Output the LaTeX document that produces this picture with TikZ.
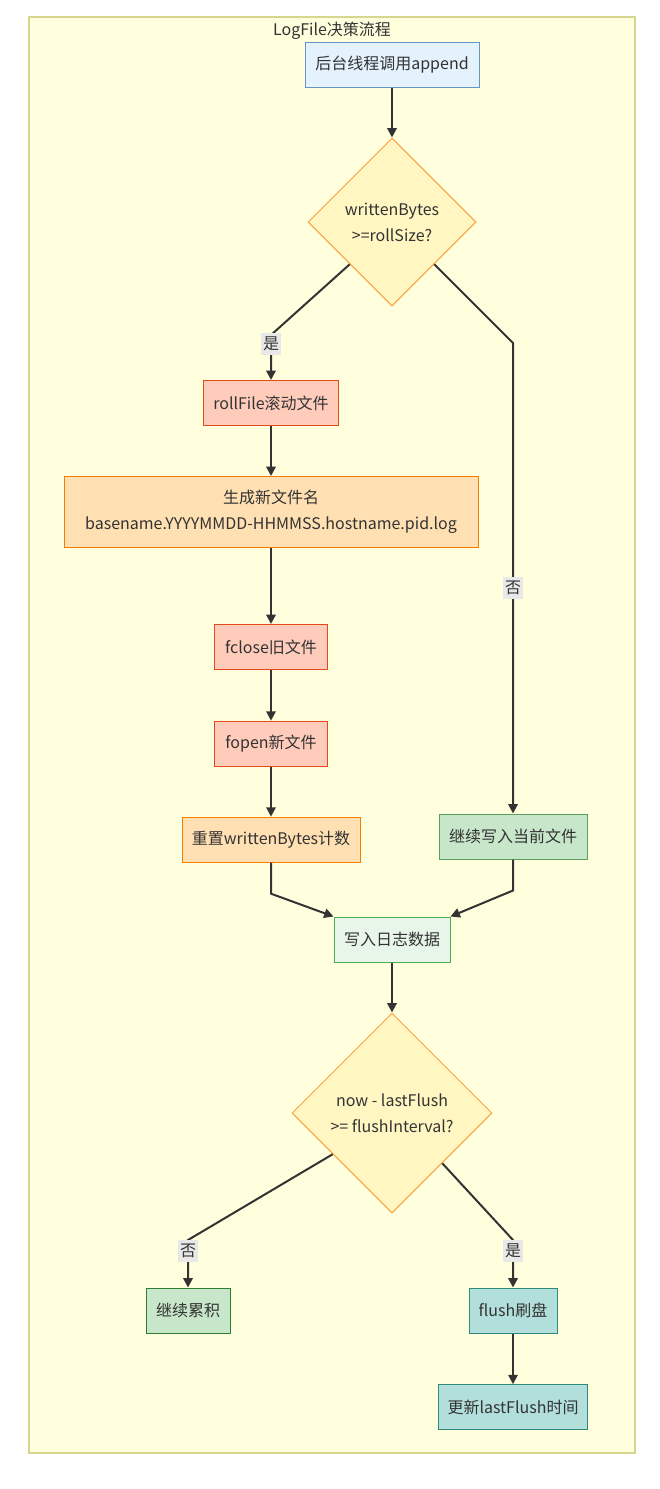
\documentclass[tikz,border=0pt]{standalone}
\usepackage{fontspec}
\newfontfamily\cjk{Noto Sans CJK SC}
\usetikzlibrary{shapes.geometric, arrows.meta, positioning, calc}
\definecolor{txt}{HTML}{333333}
\definecolor{edge}{HTML}{333333}
\definecolor{clusterbg}{HTML}{FFFFDE}
\definecolor{clusterline}{HTML}{D6D68E}
\definecolor{startbg}{HTML}{E3F2FD}
\definecolor{startline}{HTML}{6495C8}
\definecolor{decbg}{HTML}{FFF6C2}
\definecolor{decline}{HTML}{F9A03F}
\definecolor{rollbg}{HTML}{FFCCBC}
\definecolor{rollline}{HTML}{E64A19}
\definecolor{namebg}{HTML}{FFE0B2}
\definecolor{nameline}{HTML}{F57C00}
\definecolor{keepbg}{HTML}{C8E6C9}
\definecolor{keepline}{HTML}{5B9F5F}
\definecolor{databg}{HTML}{E8F5E9}
\definecolor{dataline}{HTML}{4CAF50}
\definecolor{accline}{HTML}{2E7D32}
\definecolor{flushbg}{HTML}{B2DFDB}
\definecolor{flushline}{HTML}{2E8B7A}
\definecolor{lblbg}{HTML}{E8E8E8}
\tikzset{
    process/.style={
        rectangle, minimum height=33.75pt, inner sep=0pt,
        text centered, align=center, line width=0.75pt, text=txt
    },
    decision/.style={
        diamond, aspect=1, inner sep=0pt, text centered, align=center,
        fill=decbg, draw=decline, line width=0.75pt, text=txt
    },
    arrow/.style={
        -{Triangle[length=7pt,width=7pt]}, line width=1.5pt, draw=edge
    },
    lbl/.style={
        fill=lblbg, inner xsep=1.5pt, inner ysep=3pt, text=txt
    },
    entry/.style={fill=startbg, draw=startline},
    roll/.style={fill=rollbg, draw=rollline},
    rename/.style={fill=namebg, draw=nameline},
    keep/.style={fill=keepbg, draw=keepline},
    datawrite/.style={fill=databg, draw=dataline},
    accum/.style={fill=keepbg, draw=accline},
    flushing/.style={fill=flushbg, draw=flushline}
}
\begin{document}
\begin{tikzpicture}[x=0.75pt, y=-0.75pt, font=\cjk\fontsize{12}{19.5}\selectfont]

    % canvas and cluster
    \path[use as bounding box, fill=white] (0,0) rectangle (660,1489);
    \draw[fill=clusterbg, draw=clusterline, line width=1pt] (29,17) rectangle (635,1453);
    \node[text=txt] (title) at (332,31) {LogFile决策流程};

    % rolling part
    \node[process, entry, minimum width=130.5pt] (append) at (392,64.5) {后台线程调用append};
    \node[decision, minimum size=126pt, below=37.5pt of append] (chkroll) {writtenBytes\\>=rollSize?};
    \node[process, roll, minimum width=101.25pt]              (rollfile) at (271,403) {rollFile滚动文件};
    \node[process, rename, minimum width=310.5pt, minimum height=53.25pt, below=37.5pt of rollfile]
        (newname) {生成新文件名\\basename.YYYYMMDD-HHMMSS.hostname.pid.log};
    \node[process, roll, minimum width=84.75pt, below=57pt of newname]   (fclose) {fclose旧文件};
    \node[process, roll, minimum width=84.75pt, below=38pt of fclose]    (fopen)  {fopen新文件};
    \node[process, rename, minimum width=133.5pt, below=37.5pt of fopen] (reset)  {重置writtenBytes计数};
    \node[process, keep, minimum width=111pt] (keepfile) at (513,836.5) {继续写入当前文件};

    % writing and flushing
    \node[process, datawrite, minimum width=87pt] (writelog) at (392,939.5) {写入日志数据};
    \node[decision, minimum size=150pt, below=37.5pt of writelog] (chkflush) {now - lastFlush\\>= flushInterval?};
    \node[process, accum, minimum width=63pt]    (accumulate) at (188,1310.5) {继续累积};
    \node[process, flushing, minimum width=66pt] (flush)      at (513,1310.5) {flush刷盘};
    \node[process, flushing, minimum width=111.75pt, below=38pt of flush] (updflush) {更新lastFlush时间};

    \coordinate (yesroll) at (271,335);
    \coordinate (noroll)  at (513,343);
    \coordinate (noflush) at (188,1240);
    \coordinate (yesflush) at (513,1240);
    \coordinate (flushout) at ($(chkflush.west)!0.41!(chkflush.south)$);

    \draw[arrow] (append) -- (chkroll);
    \draw[arrow] (chkroll.south west) -- (yesroll) -- node[lbl, pos=0.2] {是} (rollfile);
    \draw[arrow] (chkroll.south east) -- (noroll) -- node[lbl, pos=0.52] {否} (keepfile);
    \draw[arrow] (rollfile) -- (newname);
    \draw[arrow] (newname)  -- (fclose);
    \draw[arrow] (fclose)   -- (fopen);
    \draw[arrow] (fopen)    -- (reset);
    \draw[arrow] (reset.south) -- ++(0,31) -- (writelog.north west);
    \draw[arrow] (keepfile.south) -- ++(0,31) -- (writelog.north east);
    \draw[arrow] (writelog) -- (chkflush);
    \draw[arrow] (flushout) -- (noflush) -- node[lbl, pos=0.23] {否} (accumulate);
    \draw[arrow] (chkflush.south east) -- (yesflush) -- node[lbl, pos=0.23] {是} (flush);
    \draw[arrow] (flush) -- (updflush);

\end{tikzpicture}
\end{document}
